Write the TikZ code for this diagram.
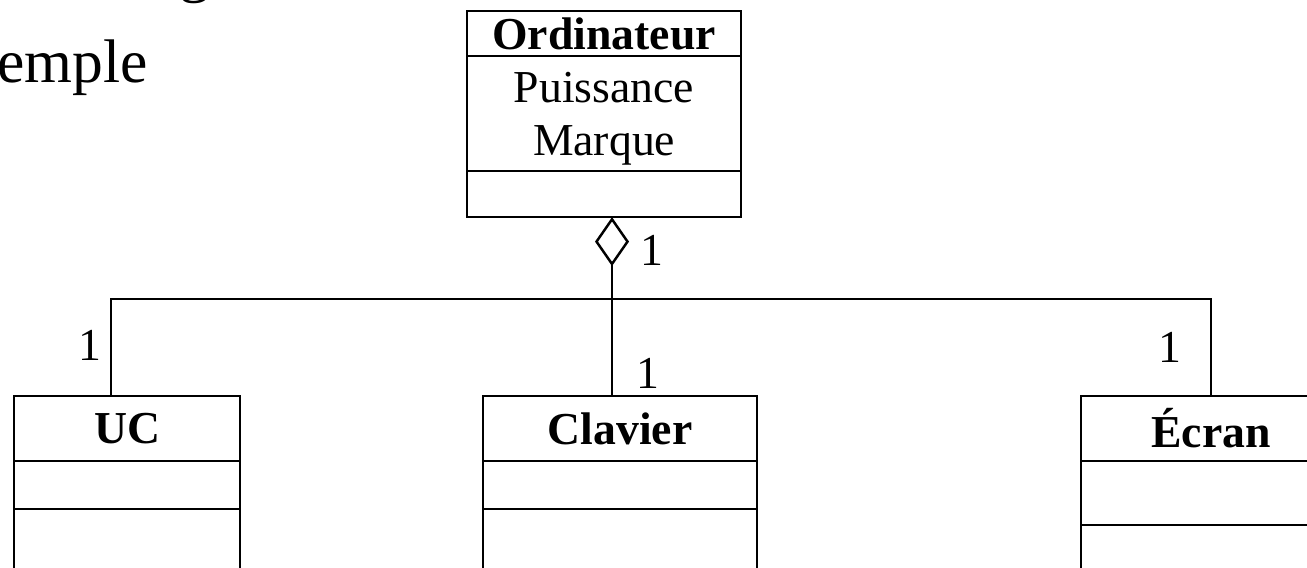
\documentclass[tikz,border=0pt]{standalone}
\usepackage{fontspec}
\setmainfont{Liberation Serif}
\usetikzlibrary{arrows.meta,positioning}

\begin{document}
\begin{tikzpicture}[
    x=0.01cm,y=0.01cm,line width=0.7pt,
    cbox/.style={draw,outer sep=0pt,inner sep=0pt,
                 font=\fontsize{13}{15}\selectfont},
    cname/.style={cbox,minimum height=0.65cm,font=\fontsize{13}{15}\selectfont\bfseries},
    mult/.style={font=\fontsize{13}{15}\selectfont,inner sep=0pt},
    heading/.style={font=\fontsize{17.5}{21}\selectfont,inner sep=0pt,anchor=base west}]

    \useasboundingbox (0,0) rectangle (1307,568);

    % slide heading
    \node[heading] (topline) at (178,577) {g};
    \node[heading] (title) at (-4,485) {emple};

    % Ordinateur
    \node[cbox,minimum width=2.74cm,minimum height=0.45cm,anchor=north west,
          font=\fontsize{13}{15}\selectfont\bfseries] (ord) at (467,557) {Ordinateur};
    \node[cbox,minimum width=2.74cm,minimum height=1.15cm,
          below=0pt of ord] (ord-attr) {};
    \node[mult,align=center,yshift=-1.5pt] (ord-fields) at (ord-attr) {Puissance\\Marque};
    \node[cbox,minimum width=2.74cm,minimum height=0.46cm,
          below=0pt of ord-attr] (ord-ops) {};

    % parts
    \foreach \id/\title/\xl/\bw/\ah in {uc/UC/14/2.26cm/0.48cm,
        clavier/Clavier/483/2.74cm/0.48cm, ecran/Écran/1081/2.6cm/0.64cm} {
      \node[cname,minimum width=\bw,anchor=north west] (\id) at (\xl,172) {\title};
      \node[cbox,minimum width=\bw,minimum height=\ah,below=0pt of \id] (\id-attr) {};
      \node[cbox,minimum width=\bw,minimum height=0.8cm,below=0pt of \id-attr] (\id-ops) {};
    }

    % aggregation
    \coordinate (busL) at (111,269);
    \coordinate (busM) at (612,269);
    \coordinate (busR) at (1211,269);
    \draw (uc.north -| busL) -- (busL) -- (busR) -- (ecran.north -| busR);
    \draw[-{Diamond[open,length=0.49cm,width=0.34cm]}]
      (clavier.north -| busM) -- (ord-ops.south -| busM);

    \node[mult] (m-ord) at (652,318) {1};
    \node[mult] (m-uc) at (90,223) {1};
    \node[mult] (m-clavier) at (648,195) {1};
    \node[mult] (m-ecran) at (1170,221) {1};
\end{tikzpicture}
\end{document}
